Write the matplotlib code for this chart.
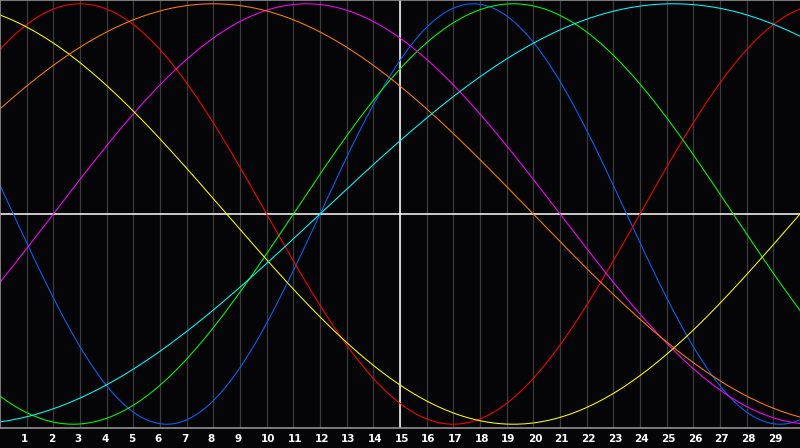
import numpy as np
import matplotlib
matplotlib.use('Agg')
import matplotlib.pyplot as plt
import matplotlib.transforms as mtransforms

# biorhythm cycles: period in days and the day where each one crosses zero going up
cycles = ['physical', 'emotional', 'intellectual', 'intuitive', 'aesthetic', 'awareness', 'spiritual']
periods = [23, 28, 33, 38, 43, 48, 53]
zero_day = [12.0, -4.0, 11.0, 2.0, -13.0, -4.0, 12.0]
colors = ['#0066ff', '#ff0000', '#00ff00', '#ff00ff', '#ffff00', '#ff8000', '#00ffff']

days = list(range(1, 30))
today = 15

fig = plt.figure(figsize=(8, 4.48), dpi=100)
fig.patch.set_facecolor('#050508')
ax = fig.add_axes([0, 20 / 448, 1, 428 / 448])
ax.set_facecolor('#050508')

x = np.linspace(0, 30, 1200)
for name, p, z, c in zip(cycles, periods, zero_day, colors):
    ax.plot(x, np.sin(2 * np.pi * (x - z) / p), color=c, lw=0.75, label=name)

for d in days:
    ax.axvline(d, color='#3c3c3c', lw=0.9, zorder=0)
ax.axhline(0, color='white', lw=1.1, zorder=1)
ax.axvline(today, color='white', lw=1.1, zorder=1)

ax.set_xlim(0, 30)
ax.set_ylim(-1.018, 1.018)
ax.set_xticks([])
ax.set_yticks([])

# day labels sit left-aligned just before each grid line
trans = mtransforms.blended_transform_factory(ax.transData, ax.transAxes)
trans = mtransforms.offset_copy(trans, fig=fig, x=-5.5, y=-11, units='dots')
for d in days:
    ax.text(d, 0, str(d), transform=trans, color='white', fontsize=7.5,
            fontweight='bold', ha='left', va='center', clip_on=False)

for side in ['top', 'left', 'bottom']:
    ax.spines[side].set_color('#909090')
    ax.spines[side].set_linewidth(1.2)
ax.spines['right'].set_visible(False)

fig.savefig('out.png', dpi=100, facecolor=fig.get_facecolor())
